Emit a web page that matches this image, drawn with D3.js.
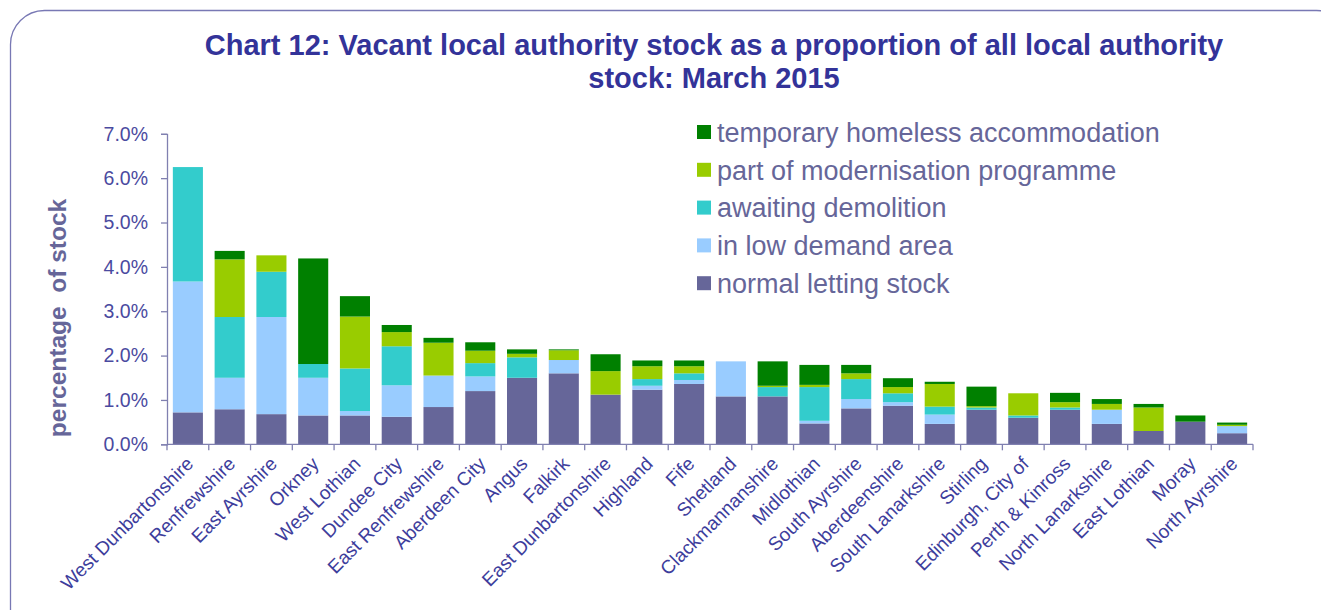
<!DOCTYPE html>
<html>
<head>
	<meta http-equiv="Content-Type" content="text/html;charset=utf-8">
	<title>Chart 12</title>
	<script type="text/javascript" src="https://d3js.org/d3.v7.min.js"></script>
	<style type="text/css">
		body {
			margin: 0;
			background: white;
			font-family: "Liberation Sans", Arial, sans-serif;
		}
		.frame {
			fill: white;
			stroke: #7878b4;
			stroke-width: 1.3;
		}
		.title {
			font-size: 29px;
			font-weight: bold;
			fill: #333399;
		}
		.legend text {
			font-size: 27px;
			fill: #666699;
		}
		.yTitle {
			font-size: 24.5px;
			font-weight: bold;
			fill: #666699;
		}
		.axis .domain, .axis .tick line {
			stroke: #8080b0;
			stroke-width: 1.3;
		}
		#yAxis text {
			font-size: 19.5px;
			fill: #4a4aa0;
		}
		#xAxis text {
			font-size: 19px;
			fill: #3d3d9c;
		}
	</style>
</head>
<body>
	<div id="chart"></div>

	<script type="text/javascript">
		// data (percent of stock)
		var councils = ["West Dunbartonshire", "Renfrewshire", "East Ayrshire", "Orkney", "West Lothian",
			"Dundee City", "East Renfrewshire", "Aberdeen City", "Angus", "Falkirk", "East Dunbartonshire",
			"Highland", "Fife", "Shetland", "Clackmannanshire", "Midlothian", "South Ayrshire",
			"Aberdeenshire", "South Lanarkshire", "Stirling", "Edinburgh, City of", "Perth & Kinross",
			"North Lanarkshire", "East Lothian", "Moray", "North Ayrshire"];
		var normalLetting = [0.72, 0.79, 0.68, 0.65, 0.65, 0.62, 0.84, 1.20, 1.50, 1.60, 1.12, 1.23, 1.36,
			1.08, 1.08, 0.47, 0.81, 0.87, 0.46, 0.78, 0.60, 0.78, 0.46, 0.30, 0.51, 0.25];
		var lowDemand = [2.95, 0.71, 2.19, 0.85, 0.10, 0.71, 0.71, 0.33, 0.00, 0.30, 0.00, 0.09, 0.09,
			0.79, 0.00, 0.06, 0.21, 0.08, 0.21, 0.00, 0.00, 0.00, 0.32, 0.00, 0.00, 0.16];
		var demolition = [2.58, 1.37, 1.02, 0.31, 0.96, 0.88, 0.00, 0.30, 0.46, 0.00, 0.00, 0.15, 0.15,
			0.00, 0.21, 0.76, 0.45, 0.20, 0.18, 0.05, 0.05, 0.05, 0.00, 0.00, 0.00, 0.00];
		var modernisation = [0.00, 1.30, 0.37, 0.00, 1.17, 0.32, 0.74, 0.28, 0.08, 0.22, 0.53, 0.29, 0.16,
			0.00, 0.03, 0.05, 0.13, 0.14, 0.51, 0.03, 0.50, 0.12, 0.13, 0.53, 0.00, 0.03];
		var temporary = [0.00, 0.19, 0.00, 2.38, 0.46, 0.16, 0.11, 0.19, 0.10, 0.02, 0.38, 0.13, 0.13,
			0.00, 0.55, 0.45, 0.19, 0.20, 0.05, 0.44, 0.00, 0.21, 0.11, 0.08, 0.14, 0.05];
		var seriesNames = ["normal letting stock", "in low demand area", "awaiting demolition",
			"part of modernisation programme", "temporary homeless accommodation"];
		var seriesColors = ["#666699", "#99ccff", "#33cccc", "#99cc00", "#008000"];
		var yTicks = [0, 1, 2, 3, 4, 5, 6, 7];

		var W = 1321, H = 610;
		var m = [133.8, 63, 165.7, 167]; //top right bottom left

		var svg = d3.select("#chart").append("svg")
			.attr("width", W)
			.attr("height", H);

		svg.append("rect")
			.attr("class", "frame")
			.attr("x", 10.5)
			.attr("y", 10.5)
			.attr("width", 1340)
			.attr("height", 640)
			.attr("rx", 34)
			.attr("ry", 34);

		svg.append("text")
			.attr("class", "title")
			.attr("x", 714)
			.attr("y", 55)
			.attr("text-anchor", "middle")
			.text("Chart 12: Vacant local authority stock as a proportion of all local authority");
		svg.append("text")
			.attr("class", "title")
			.attr("x", 714)
			.attr("y", 88)
			.attr("text-anchor", "middle")
			.text("stock: March 2015");

		var table = councils.map(function(c, i) {
			return {
				council: c,
				s0: normalLetting[i],
				s1: lowDemand[i],
				s2: demolition[i],
				s3: modernisation[i],
				s4: temporary[i]
			};
		});
		var stacked = d3.stack().keys(["s0", "s1", "s2", "s3", "s4"])(table);

		var x = d3.scaleBand()
			.domain(councils)
			.range([m[3], W - m[1] - 5])
			.paddingInner(0.28)
			.paddingOuter(0.14);
		var y = d3.scaleLinear()
			.domain([0, 7])
			.range([H - m[2], m[0]]);

		var bars = svg.append("g").attr("id", "bars");
		stacked.forEach(function(layer, k) {
			bars.append("g")
				.attr("fill", seriesColors[k])
				.selectAll("rect")
				.data(layer.filter(function(d) { return d[1] - d[0] > 0; }))
				.enter().append("rect")
				.attr("x", function(d) { return x(d.data.council); })
				.attr("width", x.bandwidth())
				.attr("y", function(d) { return y(d[1]); })
				.attr("height", function(d) { return y(d[0]) - y(d[1]); });
		});

		// y axis
		var yAxis = d3.axisLeft(y)
			.tickValues(yTicks)
			.tickFormat(function(d) { return d.toFixed(1) + "%"; })
			.tickSize(6)
			.tickPadding(13);
		svg.append("g")
			.attr("id", "yAxis")
			.attr("class", "axis")
			.attr("transform", "translate(" + m[3] + ",0)")
			.call(yAxis);

		// x axis: ticks on category boundaries, like the spreadsheet chart
		var xg = svg.append("g")
			.attr("id", "xAxis")
			.attr("class", "axis")
			.attr("transform", "translate(0," + y(0) + ")");
		var step = x.step();
		var x0 = x(councils[0]) - x.paddingOuter() * step;
		xg.append("path")
			.attr("class", "domain")
			.attr("d", "M" + x0 + ",0H" + (x0 + step * councils.length));
		xg.selectAll("line")
			.data(d3.range(councils.length + 1))
			.enter().append("line")
			.attr("class", "tickLine")
			.attr("stroke", "#8080b0")
			.attr("stroke-width", 1.3)
			.attr("x1", function(i) { return x0 + i * step; })
			.attr("x2", function(i) { return x0 + i * step; })
			.attr("y1", 0)
			.attr("y2", 6);
		xg.selectAll("text")
			.data(councils)
			.enter().append("text")
			.attr("text-anchor", "end")
			.attr("transform", function(d) {
				return "translate(" + (x(d) + x.bandwidth() / 2 + 2) + ",16) rotate(-45)";
			})
			.attr("dy", "0.35em")
			.text(function(d) { return d; });

		svg.append("text")
			.attr("class", "yTitle")
			.attr("text-anchor", "middle")
			.attr("transform", "translate(66,318) rotate(-90)")
			.text("percentage\u00a0\u00a0of stock");

		// legend, top entry is the top of the stack
		var legend = svg.append("g").attr("class", "legend");
		var order = [4, 3, 2, 1, 0];
		order.forEach(function(k, i) {
			var ly = 132 + i * 37.8;
			legend.append("rect")
				.attr("x", 697)
				.attr("y", ly - 7)
				.attr("width", 14)
				.attr("height", 14)
				.attr("fill", seriesColors[k]);
			legend.append("text")
				.attr("x", 717)
				.attr("y", ly)
				.attr("dy", "0.36em")
				.text(seriesNames[k]);
		});
	</script>
</body>
</html>
